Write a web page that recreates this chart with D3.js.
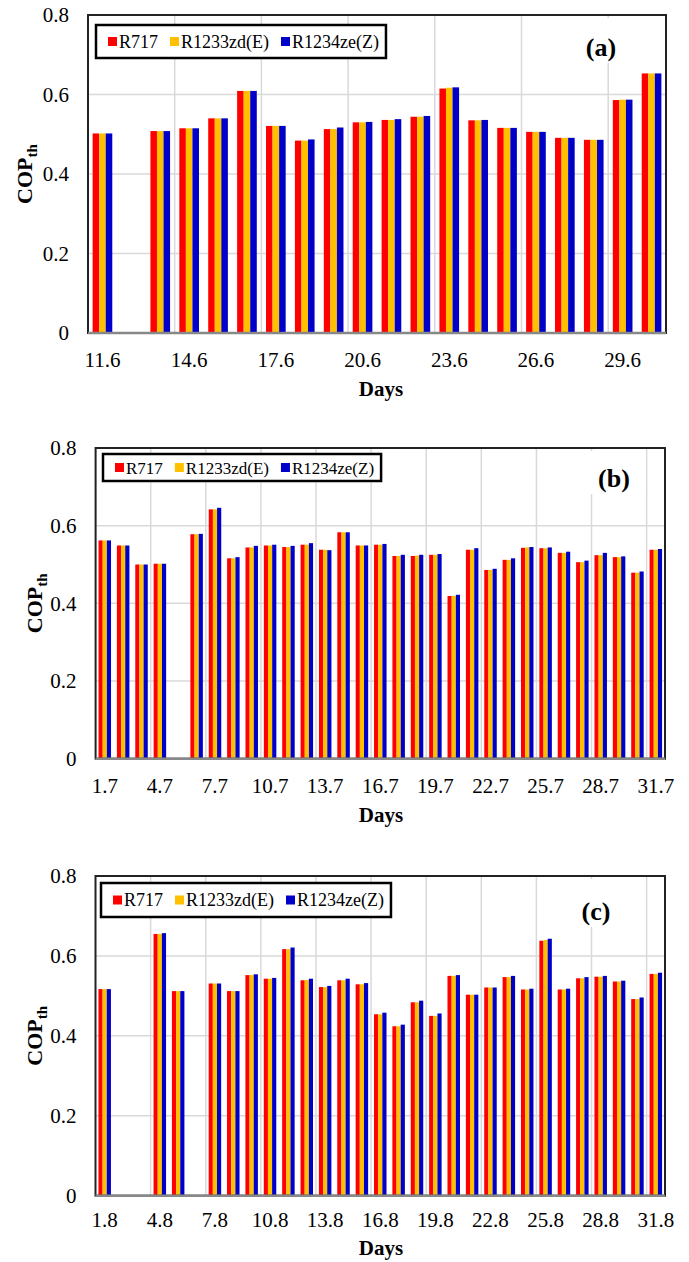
<!DOCTYPE html>
<html>
<head>
<meta charset="utf-8">
<script src="https://cdn.jsdelivr.net/npm/d3@7"></script>
<style>
  body { margin: 0; background: #fff; }
  svg { display: block; }
  text { font-family: "Liberation Serif", "Times New Roman", serif; }
</style>
</head>
<body>
<svg id="chart" width="689" height="1262"></svg>
<script>
// refrigerants and their colours
const series = ["R717", "R1233zd(E)", "R1234ze(Z)"];
const colors = ["#ff0000", "#ffc000", "#0000c8"];
const yTicks = [0, 0.2, 0.4, 0.6, 0.8];

// (a) June
const daysA = ["11.6", "12.6", "13.6", "14.6", "15.6", "16.6", "17.6", "18.6", "19.6", "20.6",
  "21.6", "22.6", "23.6", "24.6", "25.6", "26.6", "27.6", "28.6", "29.6", "30.6"];
const r717A = [0.502, null, 0.508, 0.515, 0.540, 0.609, 0.521, 0.484, 0.513, 0.530,
  0.536, 0.544, 0.615, 0.535, 0.516, 0.506, 0.491, 0.486, 0.586, 0.653];
const r1233A = [0.502, null, 0.508, 0.515, 0.540, 0.609, 0.521, 0.484, 0.513, 0.530,
  0.536, 0.544, 0.617, 0.535, 0.516, 0.506, 0.491, 0.486, 0.587, 0.653];
const r1234A = [0.502, null, 0.508, 0.515, 0.540, 0.609, 0.521, 0.487, 0.517, 0.531,
  0.538, 0.546, 0.618, 0.536, 0.516, 0.506, 0.491, 0.486, 0.587, 0.653];
const ticksA = ["11.6", "14.6", "17.6", "20.6", "23.6", "26.6", "29.6"];

// (b) July
const daysB = ["1.7", "2.7", "3.7", "4.7", "5.7", "6.7", "7.7", "8.7", "9.7", "10.7",
  "11.7", "12.7", "13.7", "14.7", "15.7", "16.7", "17.7", "18.7", "19.7", "20.7",
  "21.7", "22.7", "23.7", "24.7", "25.7", "26.7", "27.7", "28.7", "29.7", "30.7", "31.7"];
const r717B = [0.562, 0.549, 0.500, 0.502, null, 0.578, 0.642, 0.516, 0.544, 0.549,
  0.545, 0.551, 0.538, 0.583, 0.549, 0.551, 0.522, 0.522, 0.525, 0.419,
  0.538, 0.486, 0.512, 0.543, 0.542, 0.530, 0.506, 0.524, 0.519, 0.479, 0.538];
const r1233B = [0.562, 0.549, 0.500, 0.502, null, 0.578, 0.642, 0.516, 0.544, 0.549,
  0.545, 0.551, 0.538, 0.583, 0.549, 0.551, 0.522, 0.523, 0.525, 0.419,
  0.538, 0.486, 0.512, 0.544, 0.542, 0.530, 0.506, 0.524, 0.519, 0.479, 0.538];
const r1234B = [0.562, 0.549, 0.500, 0.502, null, 0.579, 0.646, 0.519, 0.548, 0.551,
  0.548, 0.555, 0.537, 0.583, 0.549, 0.553, 0.525, 0.525, 0.527, 0.422,
  0.542, 0.489, 0.516, 0.545, 0.544, 0.533, 0.510, 0.530, 0.521, 0.482, 0.540];
const ticksB = ["1.7", "4.7", "7.7", "10.7", "13.7", "16.7", "19.7", "22.7", "25.7", "28.7", "31.7"];

// (c) August
const daysC = ["1.8", "2.8", "3.8", "4.8", "5.8", "6.8", "7.8", "8.8", "9.8", "10.8",
  "11.8", "12.8", "13.8", "14.8", "15.8", "16.8", "17.8", "18.8", "19.8", "20.8",
  "21.8", "22.8", "23.8", "24.8", "25.8", "26.8", "27.8", "28.8", "29.8", "30.8", "31.8"];
const r717C = [0.517, null, null, 0.655, 0.512, null, 0.531, 0.512, 0.552, 0.543,
  0.617, 0.539, 0.522, 0.539, 0.529, 0.454, 0.424, 0.484, 0.450, 0.550,
  0.503, 0.521, 0.547, 0.516, 0.638, 0.516, 0.544, 0.548, 0.536, 0.492, 0.555];
const r1233C = [0.517, null, null, 0.655, 0.512, null, 0.531, 0.512, 0.552, 0.543,
  0.617, 0.540, 0.522, 0.539, 0.529, 0.454, 0.424, 0.484, 0.450, 0.550,
  0.503, 0.521, 0.547, 0.516, 0.640, 0.516, 0.544, 0.548, 0.536, 0.492, 0.555];
const r1234C = [0.517, null, null, 0.657, 0.512, null, 0.531, 0.512, 0.554, 0.545,
  0.621, 0.543, 0.525, 0.543, 0.532, 0.458, 0.428, 0.488, 0.456, 0.552,
  0.503, 0.521, 0.550, 0.518, 0.643, 0.518, 0.547, 0.550, 0.538, 0.496, 0.558];
const ticksC = ["1.8", "4.8", "7.8", "10.8", "13.8", "16.8", "19.8", "22.8", "25.8", "28.8", "31.8"];

const svg = d3.select("#chart");

function drawPanel(p) {
  const g = svg.append("g");
  const x0 = d3.scaleBand()
    .domain(p.days)
    .range([p.left, p.right])
    .paddingInner(0.32)
    .paddingOuter(0.16);
  const x1 = d3.scaleBand()
    .domain(series)
    .range([0, x0.bandwidth()]);
  const y = d3.scaleLinear()
    .domain([0, 0.8])
    .range([p.bottom, p.top]);

  // gridlines
  g.selectAll(".hgrid")
    .data(yTicks.filter(d => d > 0 && d < 0.8))
    .enter().append("line")
      .attr("x1", p.left).attr("x2", p.right)
      .attr("y1", d => y(d)).attr("y2", d => y(d))
      .attr("stroke", "#d9d9d9").attr("stroke-width", 1.5);
  const bounds = p.days.filter((d, i) => i > 0 && i % 3 === 0);
  g.selectAll(".vgrid")
    .data(bounds)
    .enter().append("line")
      .attr("x1", d => x0(d) - x0.step() * 0.16)
      .attr("x2", d => x0(d) - x0.step() * 0.16)
      .attr("y1", p.top).attr("y2", p.bottom)
      .attr("stroke", "#d9d9d9").attr("stroke-width", 1.5);

  // white box behind the panel tag
  g.append("rect")
    .attr("x", p.tagX - 30).attr("y", p.top + 3)
    .attr("width", 62).attr("height", p.tagY - p.top + 4)
    .attr("fill", "#fff");
  g.append("text")
    .attr("x", p.tagX).attr("y", p.tagY)
    .attr("text-anchor", "middle")
    .attr("font-size", 26).attr("font-weight", "bold")
    .text(p.tag);

  // bars
  const rows = p.days.map((d, i) => ({ day: d, vals: [p.r717[i], p.r1233[i], p.r1234[i]] }));
  const groups = g.selectAll(".day")
    .data(rows)
    .enter().append("g")
      .attr("transform", d => `translate(${x0(d.day)},0)`);
  groups.selectAll("rect")
    .data(d => d.vals.map((v, k) => ({ s: series[k], v: v, c: colors[k] })).filter(e => e.v !== null))
    .enter().append("rect")
      .attr("x", d => x1(d.s))
      .attr("width", x1.bandwidth())
      .attr("y", d => y(d.v))
      .attr("height", d => y(0) - y(d.v))
      .attr("fill", d => d.c);

  // frame and axis line
  g.append("rect")
    .attr("x", p.left).attr("y", p.top)
    .attr("width", p.right - p.left).attr("height", p.bottom - p.top)
    .attr("fill", "none").attr("stroke", "#222").attr("stroke-width", 2);
  g.append("line")
    .attr("x1", p.left).attr("x2", p.right)
    .attr("y1", p.bottom).attr("y2", p.bottom)
    .attr("stroke", "#888").attr("stroke-width", 2.5);

  // y axis
  const yAxis = g.append("g")
    .attr("transform", `translate(${p.left},0)`)
    .call(d3.axisLeft(y).tickValues(yTicks)
      .tickFormat(d => d === 0 ? "0" : d3.format(".1f")(d))
      .tickSize(0).tickPadding(19));
  yAxis.select(".domain").remove();
  yAxis.selectAll("text")
    .attr("font-family", "Liberation Serif").attr("font-size", 21).attr("fill", "#000");

  // x axis
  const xAxis = g.append("g")
    .attr("transform", `translate(0,${p.bottom})`)
    .call(d3.axisBottom(x0).tickValues(p.ticks).tickSize(0));
  xAxis.select(".domain").remove();
  xAxis.selectAll("text")
    .attr("dy", null).attr("y", p.tickDy)
    .attr("font-family", "Liberation Serif").attr("font-size", 21).attr("fill", "#000");

  // axis titles
  g.append("text")
    .attr("x", 381).attr("y", p.daysY)
    .attr("text-anchor", "middle")
    .attr("font-size", 21).attr("font-weight", "bold")
    .text("Days");
  const yt = g.append("text")
    .attr("transform", `translate(${p.copX},${(p.top + p.bottom) / 2}) rotate(-90)`)
    .attr("text-anchor", "middle")
    .attr("font-size", 22).attr("font-weight", "bold");
  yt.append("tspan").text("COP");
  yt.append("tspan").attr("font-size", 15).attr("dy", 5).text("th");

  // legend
  const leg = g.append("g");
  const box = leg.append("rect")
    .attr("x", p.legX).attr("y", p.legY)
    .attr("height", p.legH)
    .attr("fill", "#fff").attr("stroke", "#000").attr("stroke-width", 2.5);
  let cx = p.legX + 12;
  const cy = p.legY + p.legH / 2;
  series.forEach((s, k) => {
    leg.append("rect")
      .attr("x", cx).attr("y", cy - 4.5)
      .attr("width", 9).attr("height", 9)
      .attr("fill", colors[k]);
    const t = leg.append("text")
      .attr("x", cx + 11).attr("y", cy + 6)
      .attr("font-size", p.legFont)
      .text(s);
    cx += 11 + t.node().getComputedTextLength() + 12;
  });
  box.attr("width", cx - 12 - p.legX + 7);
}

drawPanel({
  days: daysA, r717: r717A, r1233: r1233A, r1234: r1234A, ticks: ticksA,
  left: 88, right: 666, top: 15, bottom: 333,
  tag: "(a)", tagX: 601, tagY: 56,
  legX: 96, legY: 25, legH: 33, legFont: 18,
  tickDy: 34, daysY: 396, copX: 32
});
drawPanel({
  days: daysB, r717: r717B, r1233: r1233B, r1234: r1234B, ticks: ticksB,
  left: 95.6, right: 665, top: 448, bottom: 758.7,
  tag: "(b)", tagX: 614, tagY: 487,
  legX: 103, legY: 454, legH: 27, legFont: 17,
  tickDy: 34, daysY: 822, copX: 42
});
drawPanel({
  days: daysC, r717: r717C, r1233: r1233C, r1234: r1234C, ticks: ticksC,
  left: 95.5, right: 665, top: 876, bottom: 1195.7,
  tag: "(c)", tagX: 596, tagY: 920,
  legX: 101, legY: 883, legH: 34, legFont: 18,
  tickDy: 31, daysY: 1255, copX: 42
});
</script>
</body>
</html>
